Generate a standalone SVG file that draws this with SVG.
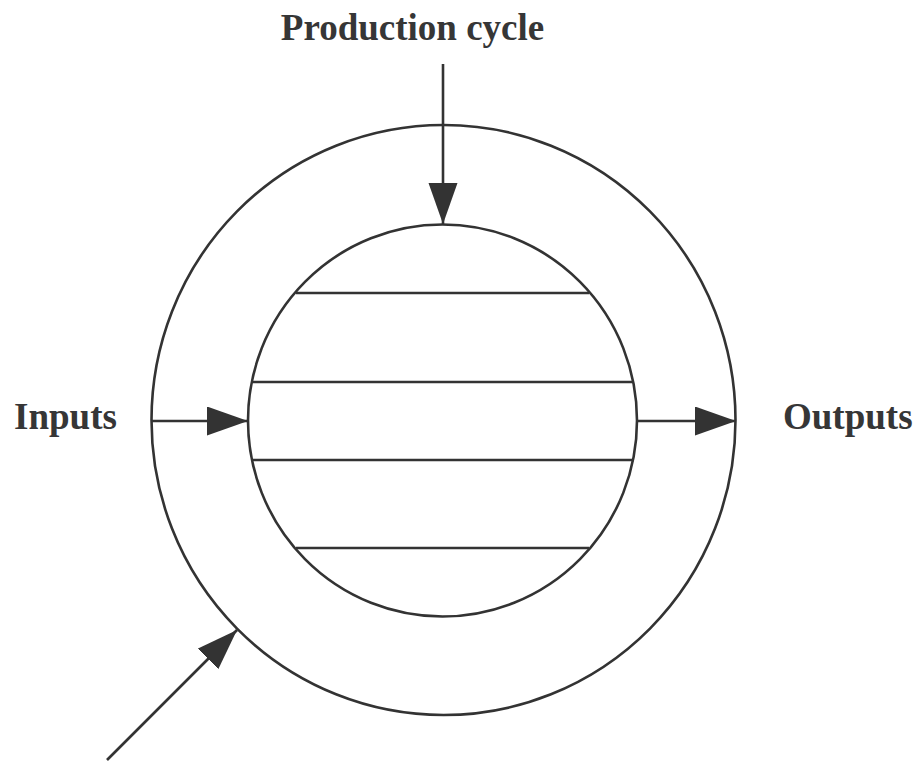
<svg xmlns="http://www.w3.org/2000/svg" width="917" height="761" viewBox="0 0 917 761">
<defs>
<style>
.ln{stroke:#333;stroke-width:2.6;fill:none}
.lbl{font-family:"Liberation Serif","Times New Roman",serif;font-weight:bold;font-size:37px;fill:#363636}
</style>
<marker id="ah" markerUnits="userSpaceOnUse" markerWidth="42" markerHeight="30" refX="41" refY="14.5" orient="auto">
<path d="M0,0 L41,14.5 L0,29 Z" fill="#333"/>
</marker>
</defs>
<rect width="917" height="761" fill="#fff"/>
<g id="outer-ring"><ellipse class="ln" cx="443.5" cy="420" rx="292" ry="295"/></g>
<g id="production-core">
<ellipse class="ln" cx="442.5" cy="420.5" rx="194.5" ry="196"/>
<line class="ln" x1="296" y1="293" x2="589" y2="293"/>
<line class="ln" x1="252" y1="382" x2="634" y2="382"/>
<line class="ln" x1="252" y1="460" x2="634" y2="460"/>
<line class="ln" x1="296" y1="548" x2="589" y2="548"/>
</g>
<g id="label-production"><text class="lbl" x="412.5" y="40" text-anchor="middle">Production cycle</text></g>
<g id="label-inputs"><text class="lbl" x="14" y="429">Inputs</text></g>
<g id="label-outputs"><text class="lbl" x="783" y="429">Outputs</text></g>
<g id="connectors">
<line class="ln" x1="443" y1="64" x2="443" y2="224" marker-end="url(#ah)"/>
<line class="ln" x1="152" y1="421" x2="248" y2="421" marker-end="url(#ah)"/>
<line class="ln" x1="637" y1="421" x2="736" y2="421" marker-end="url(#ah)"/>
<line class="ln" x1="107" y1="760" x2="237" y2="630" marker-end="url(#ah)"/>
</g>
</svg>
